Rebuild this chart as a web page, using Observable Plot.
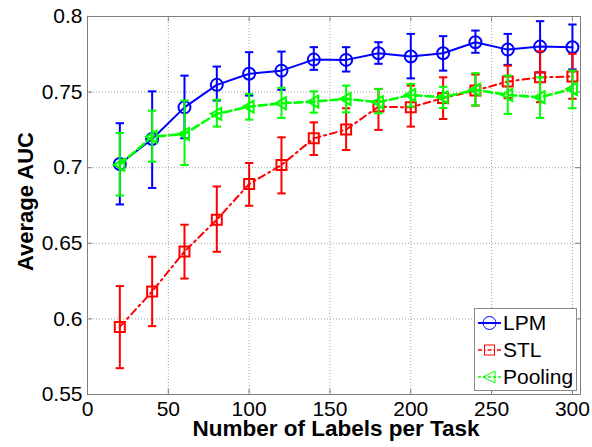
<!DOCTYPE html>
<html>
<head>
<meta charset="utf-8">
<script src="https://cdn.jsdelivr.net/npm/d3@7"></script>
<script src="https://cdn.jsdelivr.net/npm/@observablehq/plot@0.6"></script>
<style>
  html, body { margin: 0; padding: 0; background: #fff; }
  #wrap { position: relative; width: 592px; height: 447px; font-family: "Liberation Sans", Arial, sans-serif; }
  #legend { position: absolute; left: 474px; top: 308px; width: 103px; height: 83px; border: 1px solid #8a8a8a; background: #fff; box-sizing: border-box; }
  .row { position: absolute; left: 1px; height: 26px; display: flex; align-items: center; font-size: 21px; color: #000; }
  .row svg { display: block; margin-right: 1px; }
</style>
</head>
<body>
<div id="wrap"></div>
<script>
// ---------------- data ----------------
const labels = [20, 40, 60, 80, 100, 120, 140, 160, 180, 200, 220, 240, 260, 280, 300];

const lpmMean = [0.7024, 0.7190, 0.7399, 0.7548, 0.7621, 0.7642, 0.7715, 0.7713, 0.7757, 0.7735, 0.7757, 0.7830, 0.7781, 0.7801, 0.7797];
const lpmLo   = [0.6757, 0.6866, 0.7195, 0.7444, 0.7477, 0.7515, 0.7647, 0.7636, 0.7687, 0.7591, 0.7642, 0.7760, 0.7680, 0.7630, 0.7650];
const lpmHi   = [0.7294, 0.7505, 0.7609, 0.7669, 0.7764, 0.7768, 0.7797, 0.7797, 0.7830, 0.7885, 0.7870, 0.7907, 0.7885, 0.7969, 0.7947];

const stlMean = [0.5947, 0.6181, 0.6446, 0.6656, 0.6892, 0.7018, 0.7194, 0.7252, 0.7404, 0.7399, 0.7461, 0.7510, 0.7570, 0.7598, 0.7603];
const stlLo   = [0.5674, 0.5952, 0.6267, 0.6444, 0.6748, 0.6830, 0.7084, 0.7117, 0.7250, 0.7272, 0.7322, 0.7411, 0.7460, 0.7433, 0.7456];
const stlHi   = [0.6217, 0.6411, 0.6623, 0.6876, 0.7031, 0.7201, 0.7300, 0.7393, 0.7521, 0.7543, 0.7598, 0.7616, 0.7675, 0.7770, 0.7753];

const poolMean = [0.7020, 0.7205, 0.7223, 0.7356, 0.7404, 0.7426, 0.7437, 0.7455, 0.7433, 0.7481, 0.7466, 0.7515, 0.7481, 0.7466, 0.7521];
const poolLo   = [0.6816, 0.7040, 0.7018, 0.7272, 0.7318, 0.7329, 0.7364, 0.7366, 0.7360, 0.7404, 0.7395, 0.7411, 0.7356, 0.7329, 0.7393];
const poolHi   = [0.7230, 0.7377, 0.7444, 0.7450, 0.7488, 0.7528, 0.7505, 0.7543, 0.7521, 0.7554, 0.7535, 0.7625, 0.7609, 0.7598, 0.7642];

const seriesNames = ["LPM", "STL", "Pooling"];
const xTicks = [0, 50, 100, 150, 200, 250, 300];
const yTicks = [0.55, 0.6, 0.65, 0.7, 0.75, 0.8];
const xTitle = "Number of Labels per Task";
const yTitle = "Average AUC";

// ---------------- build ----------------
const W = 592, H = 447;
const mT = 16, mR = 12, mB = 53, mL = 87;
const plotH = H - mT - mB;
const plotW = W - mL - mR;

function rows(name, mean, lo, hi) {
  return labels.map((x, i) => ({series: name, x, mean: mean[i], lo: lo[i], hi: hi[i]}));
}
const data = {
  LPM: rows("LPM", lpmMean, lpmLo, lpmHi),
  STL: rows("STL", stlMean, stlLo, stlHi),
  Pooling: rows("Pooling", poolMean, poolLo, poolHi)
};

const capSymbol = {
  draw(ctx, size) { const r = Math.sqrt(size / Math.PI); ctx.moveTo(-r, 0); ctx.lineTo(r, 0); }
};
const triLeft = {
  draw(ctx, size) {
    const r = Math.sqrt(size / Math.PI);
    ctx.moveTo(-r, 0); ctx.lineTo(r * 0.75, -r); ctx.lineTo(r * 0.75, r); ctx.closePath();
  }
};
const squareSym = {
  draw(ctx, size) { const r = Math.sqrt(size / Math.PI); ctx.rect(-r, -r, 2 * r, 2 * r); }
};

const style = {
  LPM:     {color: "#0000ff", dash: null,          width: 2,   symbol: "circle", r: 6},
  STL:     {color: "#ff0000", dash: "7,4,2,4",     width: 2,   symbol: squareSym, r: 5},
  Pooling: {color: "#00ff00", dash: "8,4",         width: 2.6, symbol: triLeft, r: 6}
};

const marks = [
  Plot.gridX(xTicks.filter(d => d > 0), {stroke: "#a0a0a0", strokeOpacity: 1, strokeDasharray: "1,2", strokeWidth: 1}),
  Plot.gridY(yTicks.filter(d => d > 0.55 && d < 0.8), {stroke: "#a0a0a0", strokeOpacity: 1, strokeDasharray: "1,2", strokeWidth: 1}),
  Plot.tickX(xTicks, {x: d => d, insetTop: plotH - 5, stroke: "#7f7f7f"}),
  Plot.tickX(xTicks, {x: d => d, insetBottom: plotH - 5, stroke: "#7f7f7f"}),
  Plot.tickY(yTicks, {y: d => d, insetLeft: plotW - 5, stroke: "#7f7f7f"}),
  Plot.tickY(yTicks, {y: d => d, insetRight: plotW - 5, stroke: "#7f7f7f"}),
  Plot.frame({stroke: "#7f7f7f"}),
  Plot.axisX({ticks: xTicks, tickSize: 0, tickPadding: 7, tickFormat: d => String(d), label: null}),
  Plot.axisY({ticks: yTicks, tickSize: 0, tickPadding: 5, tickFormat: d => String(d), label: null}),
  Plot.text([xTitle], {frameAnchor: "bottom", textAnchor: "middle", lineAnchor: "middle", dx: 2, dy: 34, fontWeight: "bold", fontSize: 22.5}),
  Plot.text([yTitle], {frameAnchor: "left", textAnchor: "middle", lineAnchor: "middle", dx: -62, dy: -4, rotate: -90, fontWeight: "bold", fontSize: 22})
];

for (const name of seriesNames) {
  const s = style[name], d = data[name];
  marks.push(
    Plot.ruleX(d, {x: "x", y1: "lo", y2: "hi", stroke: s.color, strokeWidth: 2}),
    Plot.dot(d, {x: "x", y: "lo", symbol: capSymbol, r: 4.2, stroke: s.color, strokeWidth: 2}),
    Plot.dot(d, {x: "x", y: "hi", symbol: capSymbol, r: 4.2, stroke: s.color, strokeWidth: 2}),
    Plot.line(d, {x: "x", y: "mean", stroke: s.color, strokeWidth: s.width, strokeDasharray: s.dash}),
    Plot.dot(d, {x: "x", y: "mean", symbol: s.symbol, r: s.r, stroke: s.color, fill: "none", strokeWidth: 2})
  );
}

const chart = Plot.plot({
  width: W, height: H,
  marginTop: mT, marginRight: mR, marginBottom: mB, marginLeft: mL,
  style: {fontFamily: "'Liberation Sans', Arial, sans-serif", fontSize: "21px", color: "#000", background: "#fff"},
  x: {domain: [0, 305]},
  y: {domain: [0.55, 0.8]},
  marks
});

const wrap = document.getElementById("wrap");
wrap.appendChild(chart);

// ---------------- legend ----------------
const legend = document.createElement("div");
legend.id = "legend";
const glyphs = {
  LPM: `<line x1="2" y1="13" x2="25" y2="13" stroke="#0000ff" stroke-width="2"/><circle cx="13.5" cy="13" r="6.5" fill="none" stroke="#0000ff" stroke-width="1"/>`,
  STL: `<line x1="2" y1="13" x2="25" y2="13" stroke="#ff0000" stroke-width="1.5" stroke-dasharray="4,2,1.5,2"/><rect x="8.5" y="8" width="10" height="10" fill="none" stroke="#ff0000" stroke-width="1"/>`,
  Pooling: `<line x1="2" y1="13" x2="25" y2="13" stroke="#00ff00" stroke-width="1.5" stroke-dasharray="3,2"/><path d="M7,13 L19,7 L19,19 Z" fill="none" stroke="#00ff00" stroke-width="1"/>`
};
seriesNames.forEach((name, i) => {
  const row = document.createElement("div");
  row.className = "row";
  row.style.top = (1 + i * 27) + "px";
  row.innerHTML = `<svg width="26" height="26">${glyphs[name]}</svg><span>${name}</span>`;
  legend.appendChild(row);
});
wrap.appendChild(legend);
</script>
</body>
</html>
